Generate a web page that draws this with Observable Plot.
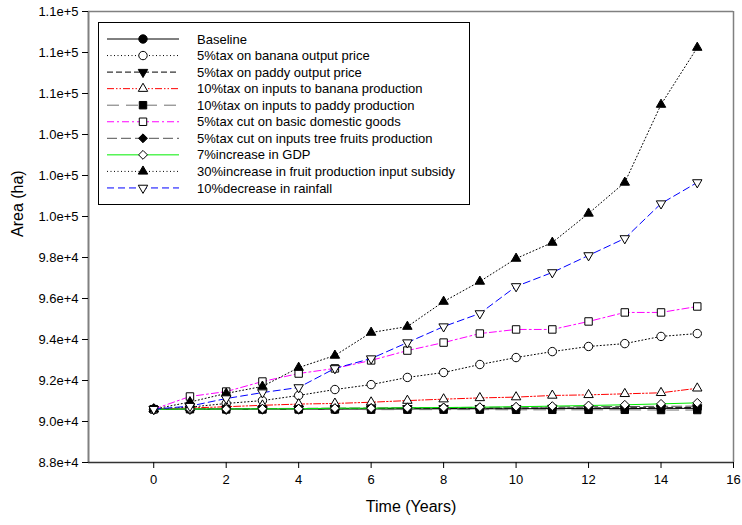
<!DOCTYPE html>
<html><head><meta charset="utf-8">
<script src="https://cdn.jsdelivr.net/npm/d3@7"></script>
<script src="https://cdn.jsdelivr.net/npm/@observablehq/plot@0.6"></script>
<style>
body{margin:0;background:#fff;}
#wrap{position:relative;width:742px;height:525px;font-family:Arial,"Liberation Sans",sans-serif;}
#legend{position:absolute;left:0;top:0;pointer-events:none;}
</style></head><body><div id="wrap"></div>
<script>
// ---- data ----
const years = [0,1,2,3,4,5,6,7,8,9,10,11,12,13,14,15];
const seriesNames = [
  "Baseline",
  "5%tax on banana output price",
  "5%tax on paddy output price",
  "10%tax on inputs to banana production",
  "10%tax on inputs to paddy production",
  "5%tax cut on basic domestic goods",
  "5%tax cut on inputs tree fruits production",
  "7%increase in GDP",
  "30%increase in fruit production input subsidy",
  "10%decrease in rainfall"
];
const baseline      = [90600,90600,90600,90600,90600,90600,90610,90610,90620,90620,90620,90630,90630,90630,90640,90640];
const bananaOutput  = [90600,90700,90880,91020,91270,91560,91800,92150,92390,92780,93120,93410,93660,93800,94150,94290];
const paddyOutput   = [90600,90610,90610,90620,90620,90630,90630,90640,90640,90650,90650,90660,90660,90670,90670,90680];
const bananaInputs  = [90600,90660,90720,90790,90850,90880,90940,91020,91090,91150,91190,91270,91300,91350,91400,91620];
const paddyInputs   = [90600,90600,90590,90590,90590,90590,90580,90580,90580,90580,90570,90570,90570,90570,90560,90560];
const domesticGoods = [90600,91220,91460,91950,92340,92590,92980,93460,93850,94290,94490,94490,94880,95320,95320,95610];
const treeFruits    = [90600,90610,90620,90630,90640,90650,90660,90670,90680,90690,90700,90710,90720,90730,90740,90750];
const gdp           = [90600,90610,90610,90620,90620,90650,90650,90670,90680,90700,90720,90750,90780,90815,90860,90910];
const subsidy       = [90600,90950,91370,91710,92630,93220,94340,94630,95850,96830,97950,98730,100150,101660,105460,108240];
const rainfall      = [90600,90750,91120,91410,91660,92590,93070,93850,94630,95270,96590,97270,98100,98930,100630,101660];
const seriesValues = [baseline,bananaOutput,paddyOutput,bananaInputs,paddyInputs,domesticGoods,treeFruits,gdp,subsidy,rainfall];
const xTicks = [0,2,4,6,8,10,12,14,16];
const yTicks = [88000,90000,92000,94000,96000,98000,100000,102000,104000,106000,108000,110000];

// ---- styles ----
const sqrt3 = Math.sqrt(3);
const triangleDown = {draw(ctx, size){const y = -Math.sqrt(size/(sqrt3*3)); ctx.moveTo(0,-y*2); ctx.lineTo(-sqrt3*y,y); ctx.lineTo(sqrt3*y,y); ctx.closePath();}};
const styles = [
  {color:"#000000", dash:null,              symbol:"circle",     fill:"#000", r:4.2},
  {color:"#000000", dash:"1,2.5",           symbol:"circle",     fill:"#fff", r:4.2},
  {color:"#000000", dash:"6,3",             symbol:triangleDown, fill:"#000", r:3.5},
  {color:"#ff0000", dash:"7,2,1.5,2,1.5,2", symbol:"triangle",   fill:"#fff", r:3.5},
  {color:"#707070", dash:"12,7",            symbol:"square",     fill:"#000", r:4.2},
  {color:"#ff00ff", dash:"7,3,2,3",         symbol:"square",     fill:"#fff", r:4.2},
  {color:"#505050", dash:"10,4",            symbol:"diamond2",   fill:"#000", r:4.0},
  {color:"#00ee00", dash:null,              symbol:"diamond2",   fill:"#fff", r:4.0},
  {color:"#000000", dash:"1,2.5",           symbol:"triangle",   fill:"#000", r:3.5},
  {color:"#0000ff", dash:"7,4",             symbol:triangleDown, fill:"#fff", r:3.5}
];

const marks = [];
seriesNames.forEach((name, i) => {
  const data = years.map((yr, j) => ({year: yr, area: seriesValues[i][j]}));
  const s = styles[i];
  marks.push(Plot.line(data, {x:"year", y:"area", stroke:s.color, strokeWidth:1, strokeDasharray:s.dash}));
  marks.push(Plot.dot(data, {x:"year", y:"area", symbol:s.symbol, r:s.r, fill:s.fill, stroke:"#000", strokeWidth:1}));
});

const chart = Plot.plot({
  width: 742, height: 525,
  marginLeft: 88, marginRight: 9, marginTop: 11, marginBottom: 63,
  style: {fontSize:"13px", fontFamily:"Arial, 'Liberation Sans', sans-serif", color:"#000", background:"#fff"},
  x: {domain:[-1.8,16]},
  y: {domain:[88000,110000]},
  marks: [
    Plot.ruleY([110000], {stroke:"#808080", strokeWidth:1.5}),
    Plot.ruleX([16], {stroke:"#808080", strokeWidth:1.5}),
    ...marks,
    Plot.ruleX([-1.8], {stroke:"#808080", strokeWidth:2}),
    Plot.ruleY([88000], {stroke:"#333", strokeWidth:1.5}),
    Plot.axisY({ticks:yTicks, tickFormat:d=>d.toExponential(1), tickSize:6, tickPadding:4, label:null, stroke:"#000"}),
    Plot.axisX({ticks:xTicks, tickFormat:d=>String(d), tickSize:6, tickPadding:6, label:null, stroke:"#000"}),
    Plot.text(["Time (Years)"], {text:d=>d, frameAnchor:"bottom", dy:49, fontSize:16}),
    Plot.text(["Area (ha)"], {text:d=>d, frameAnchor:"left", dx:-71, rotate:-90, fontSize:16})
  ]
});
document.getElementById("wrap").appendChild(chart);

// ---- legend ----
const lg = d3.select("#wrap").append("svg").attr("id","legend").attr("width",742).attr("height",525);
lg.append("rect").attr("x",98.5).attr("y",22.5).attr("width",371).attr("height",182)
  .attr("fill","#fff").attr("stroke","#000").attr("stroke-width",1);
const symMap = {circle:d3.symbolCircle, square:d3.symbolSquare, triangle:d3.symbolTriangle, diamond2:d3.symbolDiamond2};
seriesNames.forEach((name, i) => {
  const s = styles[i];
  const y = 39 + i*16.55;
  const g = lg.append("g");
  g.append("line").attr("x1",107).attr("x2",179).attr("y1",y).attr("y2",y)
    .attr("stroke",s.color).attr("stroke-width",1).attr("stroke-dasharray",s.dash);
  const st = typeof s.symbol === "string" ? symMap[s.symbol] : s.symbol;
  g.append("path").attr("d", d3.symbol(st, s.r*s.r*Math.PI)()).attr("transform",`translate(143,${y})`)
    .attr("fill",s.fill).attr("stroke","#000").attr("stroke-width",1);
  g.append("text").attr("x",197).attr("y",y).attr("dy","0.35em").attr("font-size",13)
    .attr("font-family","Arial, 'Liberation Sans', sans-serif").attr("fill","#000").text(name);
});
</script></body></html>
